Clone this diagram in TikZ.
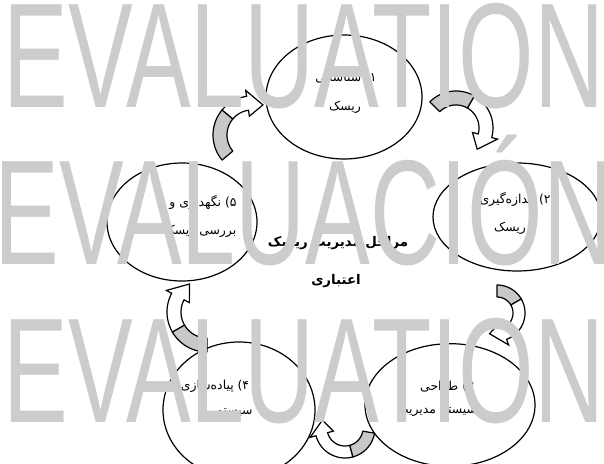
\documentclass[tikz,border=0pt]{standalone}
\usepackage{fontspec}
\setmainfont{Liberation Serif}
\newfontfamily\wmfont{Liberation Sans}
\newfontfamily\fafont[Script=Arabic]{DejaVu Sans}
\TeXXeTstate=1
\usetikzlibrary{shapes.geometric}
\definecolor{wmgrey}{RGB}{204,204,204}
\definecolor{fillgrey}{RGB}{200,200,200}
% curved block arrow: cx, cy, r, half width, tail angle, grey end angle, head base angle, tip angle, head half width
\newcommand{\bandarrow}[9]{%
  \filldraw[bandtail] plot[domain=#5:#6,samples=24] ({#1+(#3-#4)*cos(\x)},{#2+(#3-#4)*sin(\x)})
     -- plot[domain=#6:#5,samples=24] ({#1+(#3+#4)*cos(\x)},{#2+(#3+#4)*sin(\x)}) -- cycle;
  \filldraw[bandhead] plot[domain=#6:#7,samples=24] ({#1+(#3-#4)*cos(\x)},{#2+(#3-#4)*sin(\x)})
     -- ({#1+(#3-#9)*cos(#7)},{#2+(#3-#9)*sin(#7)})
     -- ({#1+#3*cos(#8)},{#2+#3*sin(#8)})
     -- ({#1+(#3+#9)*cos(#7)},{#2+(#3+#9)*sin(#7)})
     -- plot[domain=#7:#6,samples=24] ({#1+(#3+#4)*cos(\x)},{#2+(#3+#4)*sin(\x)}) -- cycle;
}
\begin{document}
\begin{tikzpicture}[x=0.75pt,y=-0.75pt,
  stage/.style={draw, ellipse, inner sep=0pt, line width=0.9pt},
  fa/.style={font=\fafont\fontsize{9.3}{11}\selectfont, inner sep=0pt},
  fab/.style={font=\fafont\bfseries\fontsize{10}{12}\selectfont, inner sep=0pt},
  bandtail/.style={fill=fillgrey, draw=black, line width=0.9pt, line join=round},
  bandhead/.style={fill=white, draw=black, line width=0.9pt, line join=miter},
  wmark/.style={text=wmgrey, inner sep=0pt, anchor=base, font=\wmfont\fontsize{112}{112}\selectfont}
]
\fill[white] (0,0) rectangle (604,464);
\useasboundingbox (0,0) rectangle (604,464);

% curved arrows between stages
\bandarrow{252}{135}{32}{7}{140}{220}{262}{290}{13}   % 5 -> 1
\bandarrow{456}{128}{30}{7}{225}{300}{375}{405}{13}   % 1 -> 2
\bandarrow{497}{313}{22}{6}{270}{330}{430}{470}{12}   % 2 -> 3
\bandarrow{345}{428}{24}{6}{10}{75}{165}{199}{12}     % 3 -> 4
\bandarrow{207}{312}{33}{7}{90}{150}{208}{238}{13}    % 4 -> 5

% stages
\node[stage, minimum width=117pt, minimum height=93pt] (e1) at (344,97) {};
\node[stage, minimum width=126pt, minimum height=81pt] (e2) at (517,217) {};
\node[stage, minimum width=127.5pt, minimum height=92pt] (e3) at (450,405) {};
\node[stage, minimum width=114pt, minimum height=102pt] (e4) at (239,410) {};
\node[stage, minimum width=112.5pt, minimum height=88.5pt] (e5) at (182,222) {};

% texts
\node[fa] (t1a) at (346,78) {\beginR ۱) شناسایی\endR};
\node[fa] (t1b) at (345,107) {\beginR ریسک\endR};
\node[fa] (t2a) at (515,199) {\beginR ۲) اندازه‌گیری\endR};
\node[fa] (t2b) at (510,228) {\beginR ریسک\endR};
\node[fa] (t3a) at (447,387) {\beginR ۳) طراحی\endR};
\node[fa] (t3b) at (437,412) {\beginR سیستم مدیریت\endR};
\node[fa] (t4a) at (215,386) {\beginR ۴) پیاده‌سازی\endR};
\node[fa] (t4b) at (234,413) {\beginR سیستم\endR};
\node[fa] (t5a) at (203,202) {\beginR ۵) نگهداری و\endR};
\node[fa] (t5b) at (200,231) {\beginR بررسی ریسک\endR};
\node[fab] (c1) at (338,243) {\beginR مراحل مدیریت ریسک\endR};
\node[fab] (c2) at (336,281) {\beginR اعتباری\endR};

% watermark
\node[wmark] (w1) at (304,107) {\scalebox{0.65}[1]{EVALUATION}};
\node[wmark] (w2) at (304,264) {\scalebox{0.65}[1]{EVALUACIÓN}};
\node[wmark] (w3) at (304,422) {\scalebox{0.65}[1]{EVALUATION}};
\end{tikzpicture}
\end{document}
